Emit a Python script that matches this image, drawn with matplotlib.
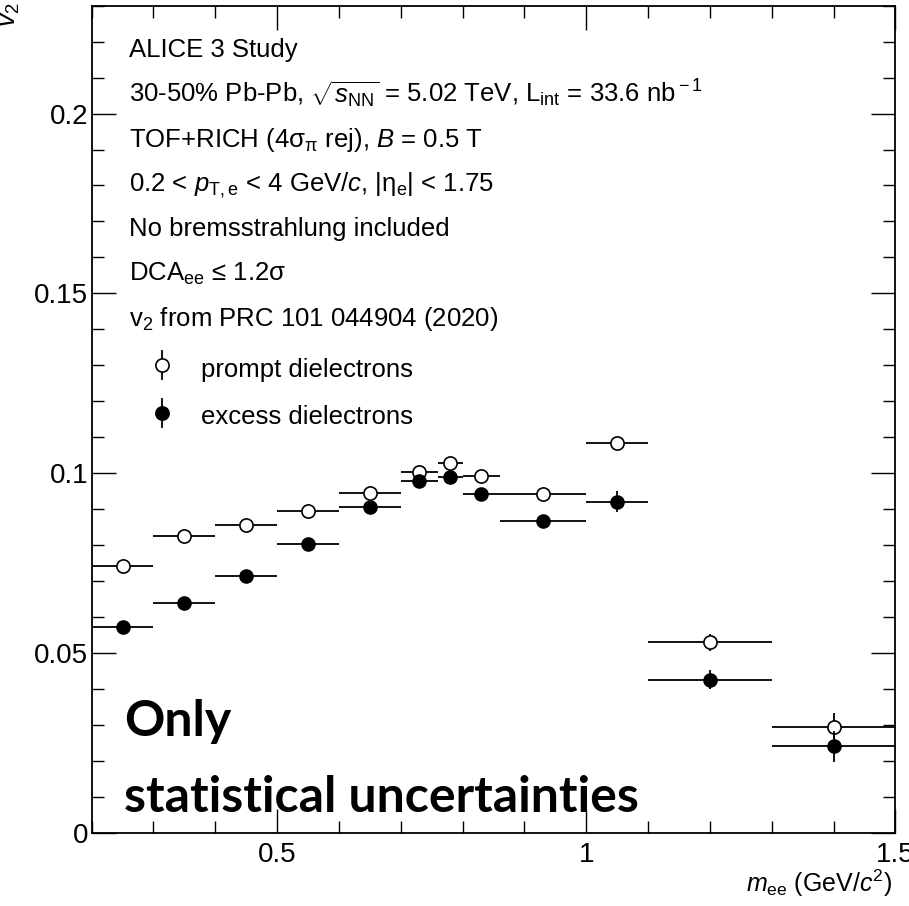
import numpy as np
import matplotlib.pyplot as plt
from matplotlib.ticker import MultipleLocator

plt.rcParams['font.family'] = ['Liberation Sans', 'DejaVu Sans']
plt.rcParams['mathtext.fontset'] = 'custom'
plt.rcParams['mathtext.rm'] = 'Liberation Sans'
plt.rcParams['mathtext.it'] = 'Liberation Sans:italic'
plt.rcParams['mathtext.bf'] = 'Liberation Sans:bold'

# bins in m_ee (GeV/c^2)
bin_lo = [0.2, 0.3, 0.4, 0.5, 0.6, 0.7, 0.76, 0.8, 0.86, 1.0, 1.1, 1.3]
bin_hi = [0.3, 0.4, 0.5, 0.6, 0.7, 0.76, 0.8, 0.86, 1.0, 1.1, 1.3, 1.5]
m_ee = [0.25, 0.35, 0.45, 0.55, 0.65, 0.73, 0.78, 0.83, 0.93, 1.05, 1.2, 1.4]

# v2 values
v2_prompt = [0.0742, 0.0824, 0.0857, 0.0894, 0.0946, 0.1002, 0.1027, 0.0993,
             0.0942, 0.1083, 0.0529, 0.0293]
err_prompt = [0.0008, 0.0008, 0.0008, 0.0008, 0.0008, 0.0010, 0.0012, 0.0010,
              0.0010, 0.0012, 0.0025, 0.0041]
v2_excess = [0.0571, 0.0640, 0.0714, 0.0802, 0.0907, 0.0978, 0.0990, 0.0943,
             0.0867, 0.0920, 0.0426, 0.0240]
err_excess = [0.0010, 0.0010, 0.0010, 0.0010, 0.0010, 0.0012, 0.0012, 0.0012,
              0.0012, 0.0029, 0.0026, 0.0043]

x = np.array(m_ee)
xerr = [x - np.array(bin_lo), np.array(bin_hi) - x]

fig = plt.figure(figsize=(9.09, 9.06), dpi=100)
ax = fig.add_axes([0.1008, 0.0809, 0.8843, 0.9128])

ax.errorbar(x, v2_prompt, xerr=xerr, yerr=err_prompt, fmt='o', color='black',
            mfc='white', mec='black', mew=1.2, ms=9.5, elinewidth=1.3,
            capsize=0, zorder=3)
ax.errorbar(x, v2_excess, xerr=xerr, yerr=err_excess, fmt='o', color='black',
            mfc='black', mec='black', ms=9.5, elinewidth=1.3, capsize=0,
            zorder=4)

ax.set_xlim(0.2, 1.5)
ax.set_ylim(0, 0.23)
ax.xaxis.set_minor_locator(MultipleLocator(0.1))
ax.yaxis.set_minor_locator(MultipleLocator(0.01))
ax.set_xticks([0.5, 1.0, 1.5])
ax.set_xticklabels(['0.5', '1', '1.5'])
ax.set_yticks([0, 0.05, 0.1, 0.15, 0.2])
ax.set_yticklabels(['0', '0.05', '0.1', '0.15', '0.2'])
ax.tick_params(which='both', direction='in', top=True, right=True, width=1.0)
ax.tick_params(which='major', length=17, labelsize=20)
ax.tick_params(axis='x', which='major', pad=7)
ax.tick_params(axis='y', which='major', pad=2.5)
ax.tick_params(which='minor', length=8.5)
for s in ax.spines.values():
    s.set_linewidth(1.3)

# axis titles
fig.text(0.982, 0.0155, r'$m_{\rm ee}$ (GeV/$c^{2}$)', fontsize=18,
         ha='right', va='baseline')
fig.text(0.011, 0.997, r'$v_{2}$', fontsize=19, rotation=90,
         ha='center', va='top')

# info text
tx = 0.047
fs = 18.5
lines = [
    'ALICE 3 Study',
    r'30-50% Pb-Pb, $\sqrt{s_{\rm NN}}$ = 5.02 TeV, L$_{\rm int}$ = 33.6 nb$^{\rm -1}$',
    r'TOF+RICH (4σ$_{\rm π}$ rej), $B$ = 0.5 T',
    r'0.2 < $p_{\rm T,e}$ < 4 GeV/$c$, |η$_{\rm e}$| < 1.75',
    'No bremsstrahlung included',
    r'DCA$_{\rm ee}$ ≤ 1.2σ',
    r'v$_{\rm 2}$ from PRC 101 044904 (2020)',
]
ys = [0.9383, 0.8840, 0.8297, 0.7755, 0.7212, 0.6669, 0.6126]
for t, yy in zip(lines, ys):
    ax.text(tx, yy, t, transform=ax.transAxes, fontsize=fs, va='baseline')

# legend
lx = 0.0876
leg_y = [0.5653, 0.5079]
leg_txt = ['prompt dielectrons', 'excess dielectrons']
leg_face = ['white', 'black']
for yy, t, fc in zip(leg_y, leg_txt, leg_face):
    ax.plot([lx, lx], [yy - 0.017, yy + 0.017], color='black', lw=1.3,
            transform=ax.transAxes, clip_on=False)
    ax.plot([lx], [yy], 'o', mfc=fc, mec='black', mew=1.2, ms=9.5,
            transform=ax.transAxes, clip_on=False)
    ax.text(0.136, yy - 0.0139, t, transform=ax.transAxes, fontsize=fs,
            va='baseline')

ax.text(0.040, 0.1173, 'Only', transform=ax.transAxes, fontsize=36,
        fontweight='bold', family=['Lato', 'DejaVu Sans'], va='baseline')
ax.text(0.040, 0.0256, 'statistical uncertainties', transform=ax.transAxes,
        fontsize=36, fontweight='bold', family=['Lato', 'DejaVu Sans'],
        va='baseline')

fig.savefig('out.png', dpi=100)
